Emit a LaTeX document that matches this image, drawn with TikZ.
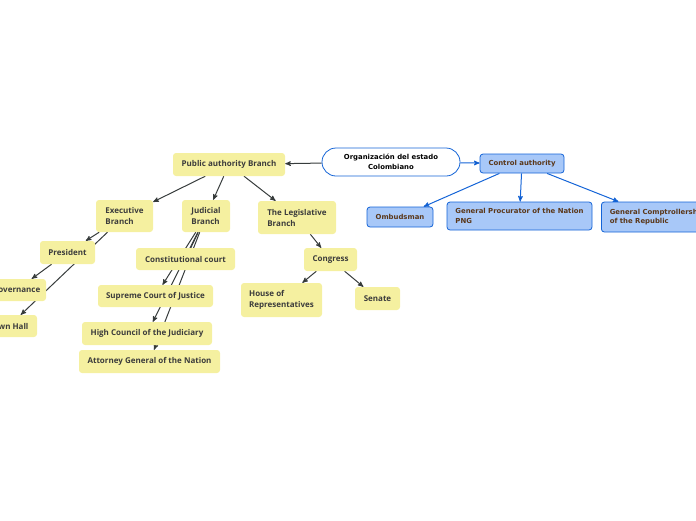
\documentclass[tikz,border=0pt]{standalone}
\usepackage{fontspec}
\newfontfamily\yellowfont{Open Sans}
\newfontfamily\bluefont{DejaVu Sans}
\usetikzlibrary{arrows}
\pgfdeclarelayer{background}
\pgfsetlayers{background,main}
\definecolor{topicfill}{RGB}{245,240,160}
\definecolor{topictext}{RGB}{60,60,60}
\definecolor{linkgray}{RGB}{55,60,60}
\definecolor{ctrlfill}{RGB}{168,200,248}
\definecolor{ctrlline}{RGB}{20,100,215}
\definecolor{ctrltext}{RGB}{90,55,25}
\tikzset{
  >=stealth',
  x=1pt, y=-1pt,
  topic/.style={fill=topicfill, rounded corners=3pt, align=left, inner sep=2pt,
    text=topictext, font=\yellowfont\bfseries\fontsize{8}{11}\selectfont},
  ctrl/.style={fill=ctrlfill, draw=ctrlline, line width=0.8pt, rounded corners=3pt,
    align=left, inner sep=2pt, text=ctrltext, font=\bluefont\bfseries\fontsize{6.9}{9.5}\selectfont},
  root/.style={fill=white, draw=ctrlline, line width=0.8pt, rounded corners=14pt,
    align=center, inner sep=2pt, font=\bluefont\bfseries\fontsize{6.9}{9.5}\selectfont},
  link/.style={->, draw=linkgray, line width=1pt},
  ctrllink/.style={->, draw=ctrlline, line width=1pt},
}
\begin{document}
\begin{tikzpicture}
		\useasboundingbox (0,0) rectangle (696,520);
		\clip (0,0) rectangle (696,520);

		% central topic
		\node[root, minimum width=138pt, minimum height=28pt] (org) at (391,162) {Organización del estado\\Colombiano};

		% control side
		\node[ctrl, minimum width=84pt, minimum height=19pt] (ctrl) at (522,163.5) {Control authority};
		\node[ctrl, minimum width=66pt, minimum height=20pt] (omb) at (400,217) {Ombudsman};
		\node[ctrl, minimum width=145pt, minimum height=28pt] (proc) at (519.5,216) {General Procurator of the Nation\\PNG};
		\node[ctrl, anchor=west, minimum width=112pt, minimum height=30pt] (comp) at (601,217) {General Comptrollership\\of the Republic};

		% branches
		\node[topic, minimum width=112pt, minimum height=23pt] (pab) at (229,164.5) {Public authority Branch};
		\node[topic, minimum width=57pt, minimum height=32pt] (exe) at (124.5,216) {Executive\\Branch};
		\node[topic, minimum width=48pt, minimum height=32pt] (jud) at (206,216) {Judicial\\Branch};
		\node[topic, minimum width=78pt, minimum height=33pt] (leg) at (297,217.5) {The Legislative\\Branch};

		% executive
		\node[topic, minimum width=55pt, minimum height=23pt] (pres) at (67.5,252.5) {President};
		\node[topic, minimum width=59pt, minimum height=22pt] (gov) at (16.5,290) {Governance};
		\node[topic, minimum width=56pt, minimum height=22pt] (town) at (9,326) {Town Hall};

		% judicial
		\node[topic, minimum width=99pt, minimum height=22pt] (const) at (185.5,259) {Constitutional court};
		\node[topic, minimum width=115pt, minimum height=22pt] (sup) at (155.5,296) {Supreme Court of Justice};
		\node[topic, minimum width=130pt, minimum height=23pt] (high) at (147,333.5) {High Council of the Judiciary};
		\node[topic, minimum width=141pt, minimum height=23pt] (att) at (149.5,361.5) {Attorney General of the Nation};

		% legislative
		\node[topic, minimum width=53pt, minimum height=23pt] (cong) at (330.5,259.5) {Congress};
		\node[topic, minimum width=81pt, minimum height=34pt] (house) at (281.5,300) {House of\\Representatives};
		\node[topic, minimum width=45pt, minimum height=23pt] (sen) at (377.5,298.5) {Senate};

		% connections
		\begin{pgfonlayer}{background}
		\draw[ctrllink] (org) edge (ctrl)
		(ctrl) edge (omb)
		(ctrl) edge (proc)
		(ctrl) edge (comp);
		\draw[link] (org) edge (pab)
		(pab) edge (exe)
		(pab) edge (jud)
		(pab) edge (leg)
		(exe) edge (pres)
		(exe) edge (town)
		(pres) edge (gov)
		(jud) edge (sup)
		(jud) edge (high)
		(jud) edge (att)
		(leg) edge (cong)
		(cong) edge (house)
		(cong) edge (sen);
		\draw[linkgray, line width=1pt] (jud) -- (const.center);
		\end{pgfonlayer}
	\end{tikzpicture}
\end{document}
